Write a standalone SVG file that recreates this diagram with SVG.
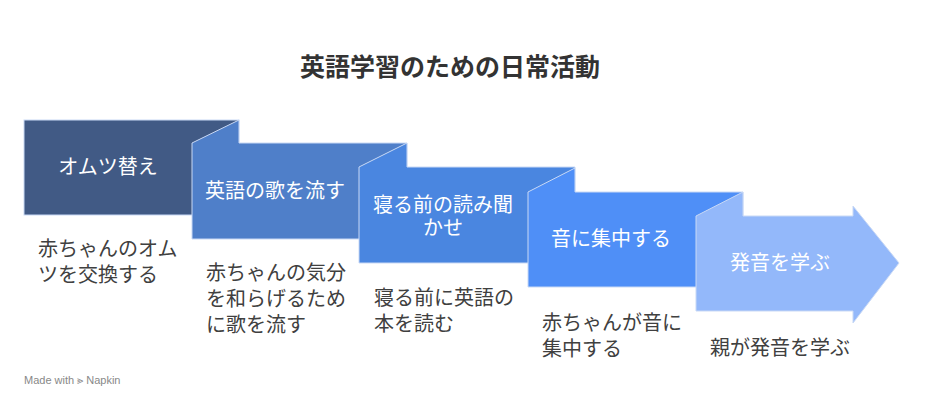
<svg xmlns="http://www.w3.org/2000/svg" width="925" height="409" viewBox="0 0 925 409">
<style>
.lb{font-family:"Liberation Sans","Noto Sans CJK JP",sans-serif;font-size:20px;fill:#fff;text-anchor:middle}
.ds{font-family:"Liberation Sans","Noto Sans CJK JP",sans-serif;font-size:20px;fill:#404040}
.sh{stroke:#c9d9f5;stroke-width:1}
</style>
<rect width="925" height="409" fill="#fff"/>
<text x="450" y="76" text-anchor="middle" style="font-family:'Liberation Sans','Noto Sans CJK JP',sans-serif;font-size:25px;font-weight:bold;fill:#333">英語学習のための日常活動</text>
<g id="n1"><rect class="sh" x="24" y="120" width="215" height="95" fill="#415a85"/><text class="lb" x="108" y="174">オムツ替え</text>
<text class="ds" x="38" y="256">赤ちゃんのオム</text><text class="ds" x="38" y="282">ツを交換する</text></g>
<g id="n2"><polygon class="sh" points="192,143 239,120 239,143 407,143 407,239 192,239" fill="#4f7fc9"/><text class="lb" x="275" y="198">英語の歌を流す</text>
<text class="ds" x="206" y="280">赤ちゃんの気分</text><text class="ds" x="206" y="306">を和らげるため</text><text class="ds" x="206" y="332">に歌を流す</text></g>
<g id="n3"><polygon class="sh" points="359,167 407,143 407,167 575,167 575,263 359,263" fill="#4a86e0"/><text class="lb" x="443" y="212">寝る前の読み聞</text><text class="lb" x="443" y="235">かせ</text>
<text class="ds" x="374" y="305">寝る前に英語の</text><text class="ds" x="374" y="331">本を読む</text></g>
<g id="n4"><polygon class="sh" points="528,192 575,168 575,192 743,192 743,287 528,287" fill="#4f8ff7"/><text class="lb" x="611" y="246">音に集中する</text>
<text class="ds" x="542" y="330">赤ちゃんが音に</text><text class="ds" x="542" y="356">集中する</text></g>
<g id="n5"><polygon class="sh" points="696,216 743,192 743,216 853,216 853,206 899,263 853,323 853,311 696,311" fill="#93b8fa"/><text class="lb" x="780" y="270">発音を学ぶ</text>
<text class="ds" x="710" y="355">親が発音を学ぶ</text></g>
<g id="connectors"/>
<text x="24" y="384" style="font-family:'Liberation Sans',sans-serif;font-size:11px;fill:#888">Made with ⪢ Napkin</text>
</svg>
